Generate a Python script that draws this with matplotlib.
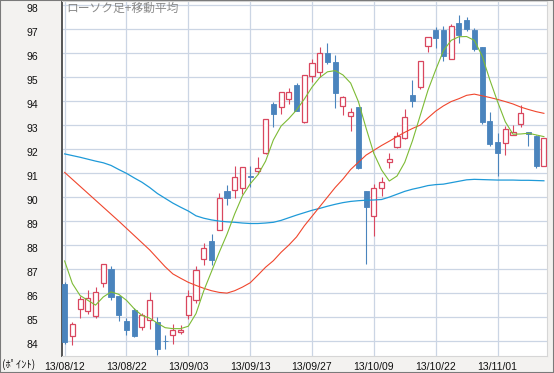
import numpy as np
import matplotlib
matplotlib.use('Agg')
from matplotlib import pyplot as plt
from matplotlib.patches import Rectangle
from matplotlib.transforms import ScaledTranslation

# daily candles 13/08/12 .. 13/11/12 (index = trading day)
opens  = [86.40, 84.20, 85.35, 85.25, 85.03, 86.42, 86.99, 85.87, 84.84, 85.31,
          84.58, 84.88, 84.79, 84.01, 84.24, 84.36, 85.10, 85.73, 87.44, 88.16,
          88.65, 90.25, 90.29, 90.40, 90.87, 91.09, 91.85, 93.87, 93.75, 94.08,
          94.68, 93.14, 95.06, 95.23, 96.00, 95.62, 93.80, 93.39, 93.77, 90.25,
          89.21, 90.40, 91.47, 92.08, 92.45, 94.26, 94.58, 96.28, 96.97, 96.97,
          95.75, 97.25, 97.39, 96.97, 96.25, 93.17, 92.31, 92.24, 92.59, 93.04,
          92.70, 92.56, 91.31]
highs  = [86.45, 84.80, 85.90, 86.15, 86.25, 87.20, 87.13, 85.87, 84.98, 85.38,
          85.17, 86.05, 85.00, 84.24, 84.70, 84.66, 86.15, 87.15, 88.07, 88.48,
          90.18, 90.50, 91.29, 91.26, 91.29, 91.66, 93.26, 93.98, 94.38, 94.54,
          94.77, 95.10, 95.75, 96.25, 96.42, 95.90, 94.22, 93.70, 93.77, 90.26,
          90.54, 90.85, 91.82, 92.73, 93.67, 94.89, 95.66, 96.68, 97.09, 97.11,
          97.22, 97.60, 97.49, 97.04, 96.27, 93.54, 92.66, 92.96, 93.00, 93.84,
          92.72, 92.58, 92.47]
lows   = [83.90, 83.85, 84.97, 85.15, 84.95, 86.25, 85.73, 84.84, 84.27, 84.17,
          84.48, 84.52, 83.42, 83.68, 83.89, 84.28, 84.94, 85.59, 87.16, 87.16,
          88.63, 89.67, 89.95, 90.15, 90.43, 90.95, 91.80, 92.94, 93.47, 93.88,
          93.58, 93.10, 94.81, 95.02, 95.54, 93.70, 93.42, 92.77, 91.18, 87.23,
          88.37, 90.05, 91.20, 92.03, 92.41, 93.77, 94.51, 96.03, 96.21, 95.68,
          95.74, 96.42, 96.94, 96.07, 93.05, 92.13, 90.89, 91.75, 92.58, 92.94,
          92.13, 91.20, 91.29]
closes = [83.95, 84.70, 85.77, 85.81, 86.05, 87.20, 85.84, 85.07, 84.48, 84.20,
          85.07, 85.70, 83.68, 84.00, 84.48, 84.48, 85.87, 86.95, 87.86, 87.40,
          89.95, 89.95, 90.82, 91.24, 90.84, 91.20, 93.24, 93.45, 94.37, 94.37,
          93.60, 95.09, 95.58, 96.00, 95.62, 94.33, 94.19, 93.54, 91.20, 89.60,
          90.36, 90.61, 91.59, 92.55, 93.33, 94.01, 95.65, 96.67, 96.63, 95.86,
          97.14, 96.76, 97.00, 96.17, 93.14, 92.21, 91.85, 92.83, 92.70, 93.49,
          92.62, 91.31, 92.45]

# moving averages
ma_short = [87.34, 86.40, 85.90, 85.70, 85.50, 85.84, 86.05, 85.95, 85.70, 85.35,
            85.07, 84.96, 84.75, 84.56, 84.52, 84.52, 84.62, 85.15, 86.10, 86.90,
            87.70, 88.45, 89.30, 90.05, 90.55, 90.93, 91.50, 92.38, 92.96, 93.27,
            93.63, 94.08, 94.58, 94.98, 95.22, 95.27, 95.09, 94.75, 93.98, 92.87,
            91.82, 91.13, 90.67, 90.88, 91.45, 92.35, 93.40, 94.45, 95.30, 96.10,
            96.53, 96.68, 96.69, 96.53, 95.89, 94.89, 93.98, 93.14, 92.62, 92.63,
            92.66, 92.59, 92.52]
ma_mid   = [91.03, 90.74, 90.45, 90.16, 89.87, 89.58, 89.29, 89.00, 88.70, 88.40,
            88.10, 87.80, 87.45, 87.10, 86.80, 86.62, 86.45, 86.32, 86.20, 86.10,
            86.03, 86.00, 86.10, 86.25, 86.43, 86.75, 87.08, 87.35, 87.70, 88.00,
            88.34, 88.80, 89.20, 89.60, 90.00, 90.40, 90.75, 91.15, 91.45, 91.75,
            91.95, 92.15, 92.33, 92.52, 92.70, 92.86, 93.00, 93.30, 93.58, 93.80,
            93.98, 94.10, 94.24, 94.29, 94.22, 94.15, 94.07, 93.98, 93.88, 93.75,
            93.65, 93.56, 93.49]
ma_long  = [91.80, 91.73, 91.66, 91.58, 91.50, 91.43, 91.32, 91.15, 90.99, 90.80,
            90.62, 90.40, 90.15, 89.95, 89.75, 89.58, 89.42, 89.22, 89.12, 89.05,
            89.00, 88.97, 88.95, 88.92, 88.90, 88.90, 88.92, 88.95, 89.03, 89.14,
            89.25, 89.35, 89.45, 89.53, 89.62, 89.70, 89.77, 89.82, 89.85, 89.87,
            89.88, 89.90, 90.00, 90.12, 90.24, 90.33, 90.40, 90.48, 90.52, 90.54,
            90.60, 90.66, 90.72, 90.74, 90.73, 90.72, 90.71, 90.71, 90.71, 90.70,
            90.70, 90.69, 90.68]

tick_pos = [0, 8, 16, 24, 32, 40, 48, 56]
tick_labels = ['13/08/12', '13/08/22', '13/09/03', '13/09/13',
               '13/09/27', '13/10/09', '13/10/22', '13/11/01']
y_ticks = list(range(84, 99))

UP_COLOR = '#d9475f'
DOWN_COLOR = '#4a84bd'
GRID_COLOR = '#cbd5e4'
PANEL_BG = '#f3f2f0'

fig = plt.figure(figsize=(5.54, 3.73), dpi=100, facecolor=PANEL_BG)
ax = fig.add_axes([62/554, 17/373, 485/554, 355/373])
ax.set_facecolor('white')

x = np.arange(len(opens))
o, h, l, c = map(np.array, (opens, highs, lows, closes))
up = c > o

# wicks first, bodies on top
ax.vlines(x[up], l[up], h[up], color=UP_COLOR, lw=0.8, zorder=3)
ax.vlines(x[~up], l[~up], h[~up], color=DOWN_COLOR, lw=0.8, zorder=3)
ax.bar(x[up], (c - o)[up], bottom=o[up], width=0.66, color='white',
       edgecolor=UP_COLOR, linewidth=0.9, zorder=4)
ax.bar(x[~up], (o - c)[~up], bottom=c[~up], width=0.66, color=DOWN_COLOR,
       edgecolor=DOWN_COLOR, linewidth=0.6, zorder=4)

ax.plot(x, ma_long, color='#1f9ad8', lw=0.9, zorder=5)
ax.plot(x, ma_mid, color='#f0462d', lw=0.8, zorder=5)
ax.plot(x, ma_short, color='#7dbb35', lw=0.8, zorder=5)

ax.set_xlim(-0.34, 62.4)
ax.set_ylim(83.38, 98.17)
ax.set_xticks(tick_pos)
ax.set_xticklabels(tick_labels)
ax.set_yticks(y_ticks)
ax.grid(True, color=GRID_COLOR, lw=0.9, zorder=0)
ax.set_axisbelow(True)
ax.tick_params(length=0, labelsize=7.5, colors='#111111')
ax.tick_params(axis='y', pad=17)
ax.tick_params(axis='x', pad=4)
# labels in the original sit a little below their grid lines
shift = ScaledTranslation(0, -2.5/100, fig.dpi_scale_trans)
for lab in ax.get_yticklabels():
    lab.set_transform(lab.get_transform() + shift)
for lab in ax.get_xticklabels() + ax.get_yticklabels():
    lab.set_family('Liberation Sans')

for side in ('top', 'right', 'bottom'):
    ax.spines[side].set_color('#d6d6d6')
    ax.spines[side].set_linewidth(0.8)
ax.spines['left'].set_color('#555555')
ax.spines['left'].set_linewidth(1.4)

ax.text(0.008, 0.998, 'ローソク足+移動平均', transform=ax.transAxes, ha='left', va='top',
        fontsize=8.5, color='#8a8a8a', family=['Noto Sans CJK JP', 'DejaVu Sans'], zorder=6)
fig.text(2/554, 1 - 364/373, '(ﾎﾟｲﾝﾄ)', ha='left', va='center', fontsize=7.5,
         color='#111111', family=['Noto Sans CJK JP', 'DejaVu Sans'])

fig.patches.append(Rectangle((0, 0), 1, 1, transform=fig.transFigure, fill=False,
                             edgecolor='#7a7a7a', lw=1.5))

fig.savefig('out.png', dpi=100, facecolor=PANEL_BG)
